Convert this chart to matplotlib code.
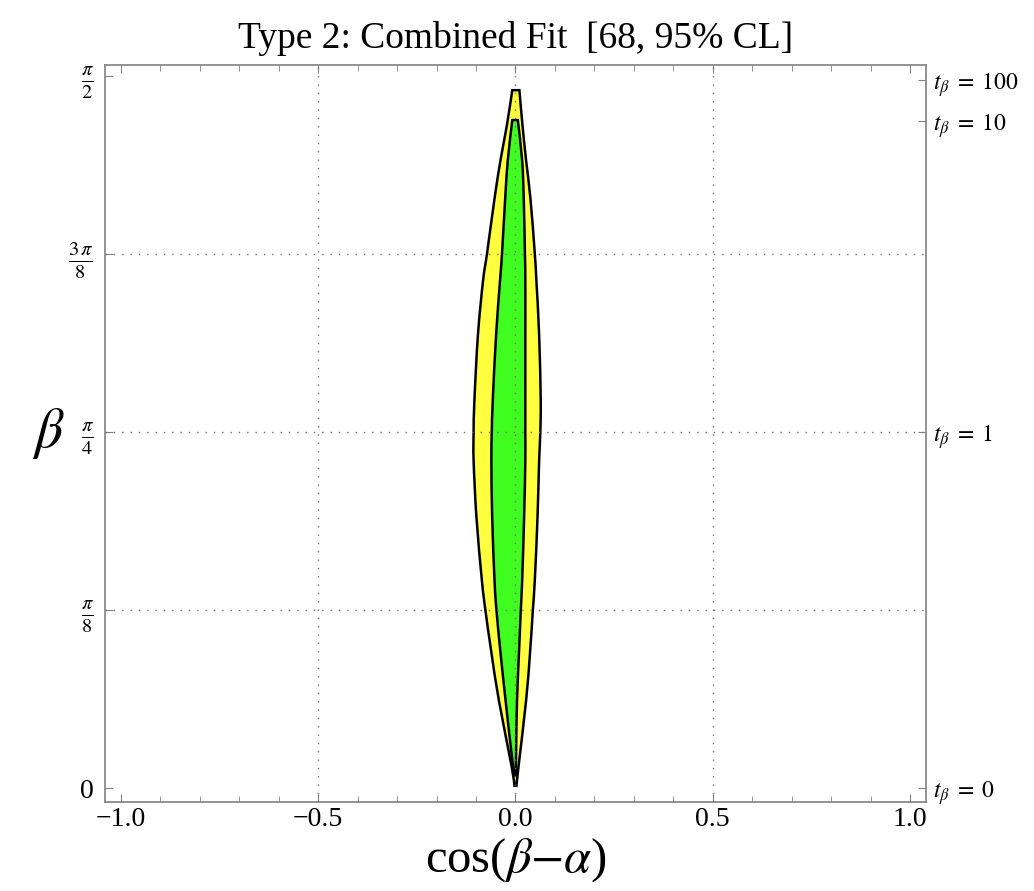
import numpy as np
import matplotlib
matplotlib.use("Agg")
import matplotlib.pyplot as plt
from matplotlib.path import Path
from matplotlib.patches import PathPatch

plt.rcParams['font.family'] = ['Liberation Serif', 'DejaVu Serif']
plt.rcParams['mathtext.fontset'] = 'stix'

# 95% CL region (beta in rad, cos(beta-alpha) edges)
beta_95 = [0.006, 0.050, 0.194, 0.300, 0.392, 0.458, 0.600, 0.723, 0.785, 0.855,
           1.000, 1.120, 1.179, 1.300, 1.384, 1.460, 1.539]
left_95 = [-0.0025, -0.010, -0.042, -0.061, -0.076, -0.085, -0.099, -0.106, -0.106, -0.104,
           -0.095, -0.082, -0.072, -0.053, -0.038, -0.022, -0.008]
right_95 = [0.0025, 0.008, 0.027, 0.037, 0.044, 0.049, 0.056, 0.060, 0.063, 0.064,
            0.060, 0.053, 0.049, 0.038, 0.027, 0.018, 0.010]

# 68% CL region
beta_68 = [0.028, 0.100, 0.194, 0.300, 0.392, 0.458, 0.600, 0.723, 0.785, 0.855,
           1.000, 1.120, 1.179, 1.300, 1.384, 1.473]
left_68 = [-0.003, -0.013, -0.025, -0.038, -0.048, -0.053, -0.059, -0.061, -0.060, -0.0575,
           -0.049, -0.039, -0.034, -0.026, -0.0195, -0.008]
right_68 = [0.001, 0.002, 0.004, 0.009, 0.0135, 0.017, 0.022, 0.025, 0.025, 0.025,
            0.025, 0.025, 0.024, 0.021, 0.017, 0.006]

x_ticks = [-1.0, -0.5, 0.0, 0.5, 1.0]
x_labels = ['\u22121.0', '\u22120.5', '0.0', '0.5', '1.0']
y_ticks = [0, np.pi / 8, np.pi / 4, 3 * np.pi / 8, np.pi / 2]
y_labels = ['0', r'$\frac{\pi}{8}$', r'$\frac{\pi}{4}$', r'$\frac{3\,\pi}{8}$', r'$\frac{\pi}{2}$']
tb_values = [0, 1, 10, 100]
tb_labels = [r'$t_\beta\;=\;0$', r'$t_\beta\;=\;1$', r'$t_\beta\;=\;10$', r'$t_\beta\;=\;100$']


def side_segments(pts):
    # cubic bezier pieces through the points (catmull-rom tangents)
    verts = []
    n = len(pts)
    for i in range(n - 1):
        p0 = pts[max(i - 1, 0)]
        p1 = pts[i]
        p2 = pts[i + 1]
        p3 = pts[min(i + 2, n - 1)]
        c1 = p1 + (p2 - p0) / 6.0
        c2 = p2 - (p3 - p1) / 6.0
        verts += [c1, c2, p2]
    return verts


fig = plt.figure(figsize=(10.34, 8.91), dpi=100)
ax = fig.add_axes([0.1015, 0.1002, 0.7940, 0.8268])


def region(beta, left, right, color):
    lpts = np.column_stack([left, beta])
    rpts = np.column_stack([right, beta])[::-1]
    verts = [lpts[0]] + side_segments(lpts) + [rpts[0]] + side_segments(rpts) + [lpts[0]]
    codes = ([Path.MOVETO] + [Path.CURVE4] * (3 * (len(lpts) - 1)) + [Path.LINETO]
             + [Path.CURVE4] * (3 * (len(rpts) - 1)) + [Path.CLOSEPOLY])
    patch = PathPatch(Path(verts, codes), facecolor=color, edgecolor='black',
                      linewidth=1.8, zorder=2)
    ax.add_patch(patch)


region(beta_95, left_95, right_95, '#FFFF40')
region(beta_68, left_68, right_68, '#40FF20')

# grid (dotted)
for xv in [-0.5, 0.0, 0.5]:
    ax.axvline(xv, color='#707070', linestyle=(0, (1, 5)), linewidth=1.0, zorder=3)
for yv in y_ticks[1:-1]:
    ax.axhline(yv, color='#707070', linestyle=(0, (1, 5)), linewidth=1.0, zorder=3)

ax.set_xlim(-1.04, 1.04)
ax.set_ylim(-0.0293, np.pi / 2 + 0.0236)

ax.set_xticks(x_ticks)
ax.set_xticklabels(x_labels, fontsize=20)
ax.set_xticks(np.arange(-0.9, 1.0, 0.1), minor=True)
ax.set_yticks(y_ticks)
ax.set_yticklabels(y_labels, fontsize=21)
ax.get_yticklabels()[0].set_fontsize(20)

ax.tick_params(axis='x', which='both', direction='in', top=True, color='#808080', pad=4)
ax.tick_params(axis='x', which='major', length=6)
ax.tick_params(axis='x', which='minor', length=4)
ax.tick_params(axis='y', direction='in', length=6, color='#808080', pad=8, right=False)

for s in ax.spines.values():
    s.set_color('#808080')
    s.set_linewidth(1.2)

ax2 = ax.twinx()
ax2.set_ylim(ax.get_ylim())
ax2.set_yticks(np.arctan(tb_values))
ax2.set_yticklabels(tb_labels, fontsize=17)
ax2.tick_params(axis='y', direction='in', length=6, color='#808080', pad=5)
for s in ax2.spines.values():
    s.set_visible(False)

ax.set_title('Type 2: Combined Fit  [68, 95% CL]', fontsize=27, pad=12)
ax.set_xlabel(r'cos($\beta$$-$$\alpha$)', fontsize=35, labelpad=3)
ax.set_ylabel(r'$\beta$', fontsize=40, rotation=0, labelpad=14, va='center')

plt.savefig('out.png', dpi=100)
